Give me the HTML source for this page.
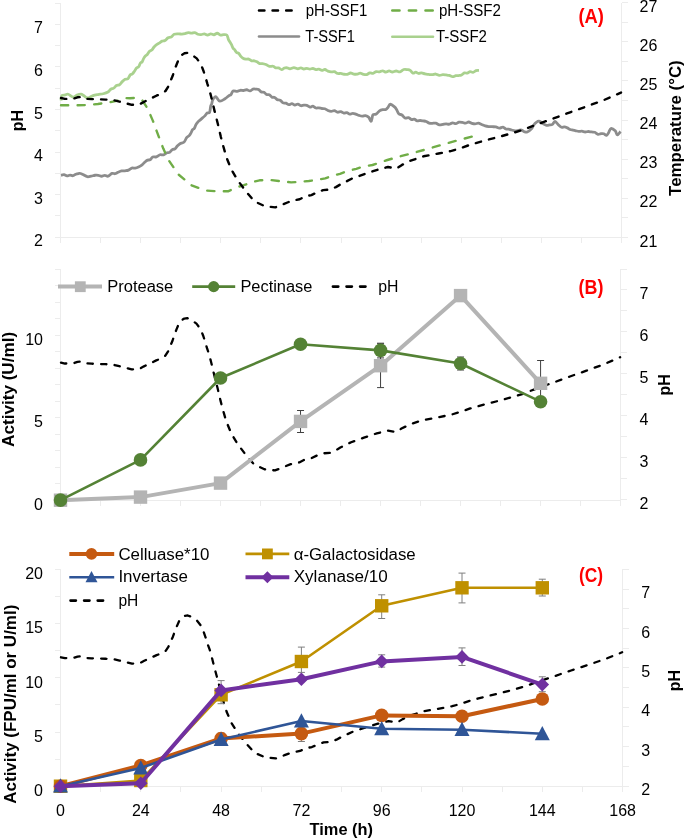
<!DOCTYPE html>
<html><head><meta charset="utf-8"><style>
html,body{margin:0;padding:0;background:#fff;}
svg{display:block;font-family:"Liberation Sans", sans-serif;will-change:transform;}
</style></head><body>
<svg width="685" height="839" viewBox="0 0 685 839">
<rect width="685" height="839" fill="#fff"/>
<path d="M60.5 3 V243.2 M54.5 237.2 H60.5 M54.5 215.91 H60.5 M54.5 194.62 H60.5 M54.5 173.33 H60.5 M54.5 152.04 H60.5 M54.5 130.75 H60.5 M54.5 109.45 H60.5 M54.5 88.16 H60.5 M54.5 66.87 H60.5 M54.5 45.58 H60.5 M54.5 24.29 H60.5 M54.5 3 H60.5 M621.5 2.8 V243.2 M621.5 237.2 H627.5 M621.5 217.67 H627.5 M621.5 198.13 H627.5 M621.5 178.6 H627.5 M621.5 159.07 H627.5 M621.5 139.53 H627.5 M621.5 120 H627.5 M621.5 100.47 H627.5 M621.5 80.93 H627.5 M621.5 61.4 H627.5 M621.5 41.87 H627.5 M621.5 22.33 H627.5 M621.5 2.8 H627.5 M60.5 237.2 H621.5 M60.5 237.2 V243.2 M100.57 237.2 V243.2 M140.64 237.2 V243.2 M180.71 237.2 V243.2 M220.79 237.2 V243.2 M260.86 237.2 V243.2 M300.93 237.2 V243.2 M341 237.2 V243.2 M381.07 237.2 V243.2 M421.14 237.2 V243.2 M461.21 237.2 V243.2 M501.29 237.2 V243.2 M541.36 237.2 V243.2 M581.43 237.2 V243.2 M621.5 237.2 V243.2" stroke="#ececec" stroke-width="1" fill="none" shape-rendering="crispEdges"/>
<text x="43" y="246.3" font-size="16" text-anchor="end" font-weight="normal" fill="#000">2</text>
<text x="43" y="203.72" font-size="16" text-anchor="end" font-weight="normal" fill="#000">3</text>
<text x="43" y="161.14" font-size="16" text-anchor="end" font-weight="normal" fill="#000">4</text>
<text x="43" y="118.55" font-size="16" text-anchor="end" font-weight="normal" fill="#000">5</text>
<text x="43" y="75.97" font-size="16" text-anchor="end" font-weight="normal" fill="#000">6</text>
<text x="43" y="33.39" font-size="16" text-anchor="end" font-weight="normal" fill="#000">7</text>
<text x="639.5" y="246.5" font-size="16" text-anchor="start" font-weight="normal" fill="#000">21</text>
<text x="639.5" y="207.43" font-size="16" text-anchor="start" font-weight="normal" fill="#000">22</text>
<text x="639.5" y="168.37" font-size="16" text-anchor="start" font-weight="normal" fill="#000">23</text>
<text x="639.5" y="129.3" font-size="16" text-anchor="start" font-weight="normal" fill="#000">24</text>
<text x="639.5" y="90.23" font-size="16" text-anchor="start" font-weight="normal" fill="#000">25</text>
<text x="639.5" y="51.17" font-size="16" text-anchor="start" font-weight="normal" fill="#000">26</text>
<text x="639.5" y="12.1" font-size="16" text-anchor="start" font-weight="normal" fill="#000">27</text>
<text x="23.2" y="120.5" font-size="16" text-anchor="middle" font-weight="bold" fill="#000" transform="rotate(-90 23.2 120.5)">pH</text>
<text x="680.7" y="128.1" font-size="16" text-anchor="middle" font-weight="bold" fill="#000" textLength="135.6" lengthAdjust="spacingAndGlyphs" transform="rotate(-90 680.7 128.1)">Temperature (°C)</text>
<g fill="none" stroke-linejoin="round">
<path d="M61 100.5 C61.13 99.7 61.08 96.65 61.8 95.73 C62.52 94.8 64.23 95.2 65.3 94.96 C66.37 94.72 66.87 93.89 68.2 94.27 C69.53 94.65 71.83 97.1 73.3 97.24 C74.77 97.38 75.72 95.64 77 95.13 C78.28 94.62 79.92 94.11 81 94.17 C82.08 94.24 82.47 94.91 83.5 95.52 C84.53 96.14 86.1 97.59 87.2 97.85 C88.3 98.11 89.13 97.47 90.1 97.09 C91.07 96.72 91.67 96.01 93 95.58 C94.33 95.15 96.38 94.82 98.1 94.51 C99.82 94.21 101.65 94.18 103.3 93.76 C104.95 93.34 106.75 92.75 108 92 C109.25 91.25 109.86 89.89 110.8 89.25 C111.74 88.61 112.71 88.79 113.67 88.18 C114.62 87.56 115.58 86.14 116.53 85.57 C117.49 85 118.44 85.41 119.4 84.75 C120.36 84.09 121.31 82.52 122.27 81.62 C123.22 80.72 124.18 79.83 125.13 79.34 C126.09 78.86 127.17 79.43 128 78.71 C128.83 77.98 129.43 75.77 130.14 74.98 C130.85 74.2 131.57 74.64 132.28 74.02 C132.99 73.41 133.71 72.31 134.42 71.29 C135.13 70.28 135.85 68.7 136.56 67.94 C137.27 67.18 138.06 67.56 138.7 66.74 C139.34 65.92 139.85 63.81 140.42 63 C140.99 62.2 141.57 62.74 142.14 61.91 C142.71 61.09 143.29 59.09 143.86 58.06 C144.43 57.04 145.01 56.36 145.58 55.77 C146.15 55.18 146.64 55.28 147.3 54.51 C147.96 53.74 148.8 51.91 149.55 51.16 C150.3 50.4 151.05 50.68 151.8 50 C152.55 49.31 153.3 47.9 154.05 47.05 C154.8 46.2 155.44 45.54 156.3 44.88 C157.16 44.22 158.23 43.72 159.2 43.09 C160.17 42.47 161.13 41.58 162.1 41.15 C163.07 40.72 164.01 41.1 165 40.53 C165.99 39.97 167.04 38.35 168.07 37.77 C169.09 37.19 170.11 37.64 171.13 37.06 C172.16 36.48 172.96 34.8 174.2 34.28 C175.44 33.76 177.33 33.98 178.6 33.93 C179.87 33.89 180.75 34.08 181.82 34.03 C182.9 33.97 183.98 33.81 185.05 33.59 C186.12 33.36 187.2 32.73 188.28 32.67 C189.35 32.61 190.43 33.24 191.5 33.22 C192.57 33.2 193.63 32.39 194.7 32.56 C195.77 32.72 196.83 33.9 197.9 34.24 C198.97 34.57 200.03 34.62 201.1 34.56 C202.17 34.5 203.23 33.82 204.3 33.9 C205.37 33.99 206.45 35.08 207.53 35.07 C208.6 35.06 209.68 33.89 210.75 33.84 C211.82 33.78 212.9 34.85 213.97 34.75 C215.05 34.66 216.12 33.21 217.2 33.27 C218.28 33.33 219.36 34.91 220.43 35.13 C221.51 35.35 222.59 34.58 223.67 34.58 C224.74 34.59 226.09 34.29 226.9 35.13 C227.71 35.97 227.97 38.44 228.5 39.61 C229.03 40.79 229.59 41.34 230.1 42.18 C230.61 43.02 231.06 43.69 231.53 44.67 C232.01 45.64 232.49 47.22 232.97 48.02 C233.44 48.82 233.8 48.73 234.4 49.47 C235 50.2 235.83 51.78 236.55 52.43 C237.27 53.07 237.98 52.69 238.7 53.35 C239.42 54 240.13 55.54 240.85 56.36 C241.57 57.17 242.16 57.77 243 58.24 C243.84 58.71 244.91 59.01 245.87 59.15 C246.82 59.29 247.78 58.78 248.73 59.07 C249.69 59.35 250.68 60.55 251.6 60.84 C252.52 61.13 253.38 60.63 254.28 60.8 C255.17 60.97 256.06 61.38 256.95 61.84 C257.84 62.31 258.73 63.28 259.62 63.58 C260.52 63.88 261.26 63.48 262.3 63.64 C263.34 63.79 264.68 64.06 265.87 64.52 C267.06 64.97 268.24 66.07 269.43 66.36 C270.62 66.64 271.93 66 273 66.25 C274.07 66.5 274.91 67.58 275.87 67.86 C276.82 68.13 277.78 67.61 278.73 67.89 C279.69 68.18 280.66 69.56 281.6 69.59 C282.54 69.61 283.47 68.32 284.4 68.02 C285.33 67.72 286.27 67.66 287.2 67.79 C288.13 67.92 288.88 68.82 290 68.8 C291.12 68.78 292.63 67.67 293.95 67.68 C295.27 67.69 296.74 68.82 297.9 68.86 C299.06 68.9 299.9 67.9 300.9 67.92 C301.9 67.95 302.9 68.95 303.9 69.02 C304.9 69.08 305.9 68.29 306.9 68.3 C307.9 68.32 308.9 69.08 309.9 69.11 C310.9 69.14 311.9 68.41 312.9 68.49 C313.9 68.57 314.9 69.48 315.9 69.58 C316.9 69.68 317.9 68.98 318.9 69.1 C319.9 69.22 320.9 70.24 321.9 70.31 C322.9 70.38 323.9 69.38 324.9 69.51 C325.9 69.64 326.86 70.71 327.9 71.11 C328.94 71.51 330.05 71.83 331.12 71.93 C332.2 72.02 333.28 71.42 334.35 71.67 C335.43 71.92 336.5 73.12 337.57 73.42 C338.65 73.72 339.73 73.33 340.8 73.46 C341.88 73.6 342.95 74.11 344.02 74.24 C345.1 74.38 346.18 74.47 347.25 74.26 C348.32 74.06 349.4 73.02 350.48 72.99 C351.55 72.95 352.62 73.83 353.7 74.03 C354.77 74.23 355.85 74.31 356.93 74.17 C358 74.03 359.07 73.16 360.15 73.19 C361.22 73.22 362.3 74.1 363.38 74.34 C364.45 74.57 365.53 74.85 366.6 74.6 C367.68 74.36 368.75 73.09 369.83 72.87 C370.9 72.65 371.98 73.49 373.05 73.27 C374.12 73.05 375.2 71.78 376.27 71.56 C377.35 71.34 378.43 72.06 379.5 71.93 C380.57 71.8 381.63 70.74 382.7 70.78 C383.77 70.81 384.83 72.11 385.9 72.14 C386.97 72.17 388.03 70.96 389.1 70.94 C390.17 70.92 391.12 72 392.3 72.01 C393.48 72.02 394.87 71.05 396.15 71.02 C397.43 71 398.73 72.11 400 71.85 C401.27 71.6 402.5 69.89 403.75 69.52 C405 69.15 406.43 69.49 407.5 69.63 C408.57 69.78 409.3 69.8 410.2 70.39 C411.1 70.98 411.97 72.85 412.9 73.15 C413.83 73.45 414.81 72.16 415.77 72.21 C416.72 72.26 417.68 73.38 418.63 73.47 C419.59 73.57 420.43 72.69 421.5 72.78 C422.57 72.86 423.88 73.71 425.07 73.98 C426.26 74.25 427.44 74.28 428.63 74.4 C429.82 74.51 431.01 74.74 432.2 74.68 C433.39 74.62 434.58 73.93 435.77 74.03 C436.96 74.13 438.14 75.17 439.33 75.28 C440.52 75.39 441.77 74.75 442.9 74.69 C444.03 74.64 445.05 74.84 446.12 74.96 C447.2 75.08 448.28 75.11 449.35 75.41 C450.43 75.7 451.5 76.67 452.57 76.72 C453.65 76.77 454.78 75.91 455.8 75.71 C456.82 75.51 457.71 75.67 458.67 75.54 C459.62 75.41 460.58 75.39 461.53 74.94 C462.49 74.5 463.44 73.14 464.4 72.84 C465.36 72.55 466.31 73.36 467.27 73.17 C468.22 72.99 469.18 71.85 470.13 71.73 C471.09 71.6 472.02 72.62 473 72.44 C473.98 72.25 475 70.95 476 70.61 C477 70.27 478.5 70.43 479 70.4" stroke="#a9d18e" stroke-width="2.8"/>
<path d="M61 175.3 C61.5 175.2 63 174.62 64 174.72 C65 174.82 66 175.85 67 175.91 C68 175.98 69.02 175.13 70 175.1 C70.98 175.07 71.93 175.87 72.9 175.72 C73.87 175.58 74.83 174.59 75.8 174.22 C76.77 173.85 77.92 173.63 78.7 173.51 C79.48 173.39 79.78 173.32 80.5 173.5 C81.22 173.68 81.87 174.04 83 174.58 C84.13 175.11 85.94 176.45 87.3 176.73 C88.66 177 89.87 176.46 91.15 176.21 C92.43 175.97 93.81 175.41 95 175.26 C96.19 175.1 97.18 175.14 98.28 175.3 C99.37 175.47 100.46 176.24 101.55 176.24 C102.64 176.24 103.73 175.33 104.82 175.33 C105.92 175.32 106.9 176.54 108.1 176.22 C109.3 175.9 110.85 173.82 112 173.4 C113.15 172.98 114 173.89 115 173.71 C116 173.52 116.9 172.75 118 172.29 C119.1 171.83 120.4 171.2 121.6 170.95 C122.8 170.7 124.05 170.92 125.2 170.78 C126.35 170.65 127.42 170.59 128.53 170.14 C129.63 169.68 130.74 168.38 131.85 168.05 C132.96 167.72 134.07 168.33 135.18 168.17 C136.28 168.01 137.4 167.59 138.5 167.09 C139.6 166.59 140.67 166.01 141.75 165.15 C142.83 164.29 144.03 162.77 145 161.94 C145.97 161.1 146.71 160.52 147.57 160.15 C148.42 159.79 149.28 160.24 150.13 159.73 C150.99 159.22 151.66 157.56 152.7 157.09 C153.74 156.62 155.13 157.28 156.35 156.89 C157.57 156.5 158.81 155.08 160 154.75 C161.19 154.42 162.33 155.23 163.5 154.9 C164.67 154.58 165.97 153.23 167 152.8 C168.03 152.38 168.78 152.88 169.67 152.35 C170.56 151.82 171.44 150.21 172.33 149.62 C173.22 149.03 174.14 149.45 175 148.81 C175.86 148.17 176.67 146.63 177.5 145.78 C178.33 144.94 178.9 144.35 180 143.73 C181.1 143.12 182.99 143.09 184.1 142.08 C185.21 141.06 185.8 138.73 186.65 137.66 C187.5 136.59 188.49 136.4 189.2 135.64 C189.91 134.88 190.33 134.12 190.9 133.1 C191.47 132.09 192.03 130.35 192.6 129.57 C193.17 128.79 193.76 129.2 194.3 128.41 C194.84 127.61 195.32 125.8 195.83 124.82 C196.34 123.84 196.86 123.17 197.37 122.53 C197.88 121.89 198.04 121.75 198.9 120.97 C199.76 120.19 201.51 118.68 202.5 117.83 C203.49 116.98 204.08 116.68 204.87 115.87 C205.66 115.06 206.44 113.57 207.23 112.97 C208.02 112.38 209.02 113.44 209.6 112.29 C210.18 111.15 210.35 107.51 210.7 106.11 C211.05 104.71 211.37 104.96 211.7 103.92 C212.03 102.87 212.1 101.03 212.7 99.84 C213.3 98.65 214.62 97.12 215.3 96.78 C215.98 96.44 216.03 97.06 216.8 97.79 C217.57 98.53 218.53 101.05 219.9 101.2 C221.27 101.36 223.48 99.68 225 98.74 C226.52 97.79 227.99 96.24 229 95.54 C230.01 94.85 230.37 95.34 231.05 94.57 C231.73 93.8 232.07 91.44 233.1 90.92 C234.12 90.4 236 91.54 237.2 91.44 C238.4 91.33 239.27 90.45 240.3 90.29 C241.33 90.14 242.33 90.6 243.4 90.51 C244.47 90.42 245.6 89.7 246.7 89.77 C247.8 89.84 248.96 91.04 250 90.93 C251.04 90.82 251.97 89.41 252.95 89.11 C253.93 88.81 254.96 89.05 255.9 89.12 C256.84 89.19 257.68 89.08 258.57 89.55 C259.47 90.01 260.36 91.46 261.25 91.91 C262.14 92.37 263.03 91.85 263.93 92.28 C264.82 92.7 265.71 94.08 266.6 94.48 C267.49 94.89 268.38 94.28 269.28 94.72 C270.17 95.16 271.06 96.7 271.95 97.14 C272.84 97.59 273.73 96.98 274.62 97.41 C275.52 97.83 276.38 99.24 277.3 99.71 C278.22 100.18 279.21 99.68 280.17 100.21 C281.12 100.74 282.08 102.39 283.03 102.88 C283.99 103.37 284.92 102.85 285.9 103.15 C286.88 103.46 287.9 104.6 288.9 104.69 C289.9 104.77 290.9 103.61 291.9 103.67 C292.9 103.73 293.9 104.96 294.9 105.04 C295.9 105.12 296.9 104.03 297.9 104.14 C298.9 104.25 299.9 105.56 300.9 105.72 C301.9 105.89 302.9 105.21 303.9 105.15 C304.9 105.08 305.9 104.99 306.9 105.33 C307.9 105.66 308.9 107 309.9 107.15 C310.9 107.29 311.9 106.03 312.9 106.18 C313.9 106.32 314.9 107.74 315.9 108.03 C316.9 108.31 317.9 107.8 318.9 107.88 C319.9 107.96 320.9 108.36 321.9 108.5 C322.9 108.64 323.9 108.4 324.9 108.73 C325.9 109.06 326.86 110.03 327.9 110.48 C328.94 110.92 330.05 111.36 331.12 111.39 C332.2 111.42 333.28 110.53 334.35 110.67 C335.43 110.81 336.5 112.04 337.57 112.21 C338.65 112.38 339.76 111.55 340.8 111.7 C341.84 111.85 342.8 112.97 343.8 113.11 C344.8 113.25 345.8 112.38 346.8 112.54 C347.8 112.7 348.8 113.96 349.8 114.08 C350.8 114.21 351.8 113.29 352.8 113.29 C353.8 113.29 354.76 113.74 355.8 114.09 C356.84 114.44 357.95 115.05 359.02 115.4 C360.1 115.74 361.18 116.11 362.25 116.15 C363.32 116.19 364.4 115.47 365.48 115.65 C366.55 115.84 367.8 116.34 368.7 117.28 C369.6 118.21 370.36 121.01 370.9 121.25 C371.44 121.5 371.6 119.84 371.95 118.76 C372.3 117.68 372.28 115.55 373 114.76 C373.72 113.96 375.17 114.63 376.25 113.98 C377.33 113.32 378.43 111.54 379.5 110.82 C380.57 110.11 381.63 109.91 382.7 109.7 C383.77 109.5 385.01 109.97 385.9 109.57 C386.79 109.17 387.33 108.2 388.05 107.32 C388.77 106.43 389.12 104.33 390.2 104.27 C391.27 104.2 393.43 106.02 394.5 106.93 C395.57 107.83 395.93 108.55 396.65 109.7 C397.37 110.85 397.93 112.97 398.8 113.85 C399.68 114.73 400.87 114.29 401.9 114.98 C402.93 115.67 403.88 117.55 405 117.99 C406.12 118.43 407.52 117.36 408.6 117.63 C409.68 117.89 410.51 119.31 411.47 119.58 C412.42 119.84 413.38 119.03 414.33 119.23 C415.29 119.43 416.22 120.59 417.2 120.8 C418.18 121.01 419.2 120.49 420.2 120.5 C421.2 120.51 422.2 120.73 423.2 120.89 C424.2 121.05 425.2 121.08 426.2 121.45 C427.2 121.83 428.2 122.83 429.2 123.13 C430.2 123.44 431.11 123.29 432.2 123.31 C433.29 123.32 434.58 122.97 435.77 123.23 C436.96 123.48 438.14 124.65 439.33 124.83 C440.52 125.01 441.77 124.47 442.9 124.29 C444.03 124.12 445.05 123.8 446.12 123.79 C447.2 123.77 448.28 124.39 449.35 124.23 C450.43 124.06 451.5 122.88 452.57 122.79 C453.65 122.7 454.73 123.81 455.8 123.71 C456.88 123.61 457.95 122.39 459.02 122.16 C460.1 121.94 461.18 122.19 462.25 122.37 C463.32 122.54 464.4 123.27 465.48 123.21 C466.55 123.15 467.62 122 468.7 122.01 C469.77 122.02 470.85 122.98 471.93 123.28 C473 123.58 474.07 123.79 475.15 123.78 C476.22 123.77 477.3 123.12 478.38 123.22 C479.45 123.33 480.47 123.98 481.6 124.43 C482.73 124.88 483.98 125.54 485.17 125.9 C486.36 126.26 487.54 126.45 488.73 126.58 C489.92 126.72 491.11 126.67 492.3 126.72 C493.49 126.77 494.68 126.65 495.87 126.89 C497.06 127.13 498.24 128.12 499.43 128.16 C500.62 128.21 501.93 127.01 503 127.16 C504.07 127.3 504.91 128.71 505.87 129.04 C506.82 129.37 507.78 128.98 508.73 129.14 C509.69 129.3 510.54 129.72 511.6 130 C512.66 130.27 513.93 130.73 515.1 130.79 C516.27 130.85 517.54 130.5 518.6 130.38 C519.66 130.25 520.51 129.8 521.47 130.02 C522.42 130.24 523.38 131.38 524.33 131.71 C525.29 132.05 526.01 132.51 527.2 132.04 C528.39 131.56 530.43 129.98 531.5 128.86 C532.57 127.73 532.8 126.34 533.6 125.27 C534.4 124.2 535.4 123.13 536.3 122.44 C537.2 121.75 537.83 120.91 539 121.13 C540.17 121.35 542.05 123.05 543.3 123.77 C544.55 124.49 545.43 125.24 546.5 125.44 C547.57 125.63 548.72 125.11 549.7 124.94 C550.68 124.78 551.5 125.03 552.4 124.44 C553.3 123.84 554.12 121.32 555.1 121.37 C556.08 121.42 557.23 123.75 558.3 124.73 C559.37 125.72 560.49 126.92 561.5 127.28 C562.51 127.63 563.41 126.76 564.37 126.86 C565.32 126.95 566.28 127.41 567.23 127.86 C568.19 128.3 569.14 129.15 570.1 129.53 C571.06 129.91 572.01 129.93 572.97 130.13 C573.92 130.34 574.88 130.55 575.83 130.76 C576.79 130.98 577.69 131.34 578.7 131.41 C579.71 131.49 580.83 131.1 581.9 131.19 C582.97 131.29 584.03 131.94 585.1 131.99 C586.17 132.05 587.27 131.52 588.35 131.51 C589.43 131.51 590.53 131.85 591.6 131.98 C592.67 132.11 593.73 131.89 594.8 132.28 C595.87 132.67 596.99 134.06 598 134.3 C599.01 134.54 599.91 133.83 600.87 133.74 C601.82 133.65 602.78 133.5 603.73 133.77 C604.69 134.04 605.76 135.57 606.6 135.34 C607.44 135.12 608.03 133.54 608.75 132.4 C609.47 131.27 609.82 128.81 610.9 128.55 C611.98 128.28 614.13 129.75 615.2 130.81 C616.27 131.87 616.4 134.78 617.3 134.91 C618.2 135.04 620.05 132.15 620.6 131.6" stroke="#8c8c8c" stroke-width="2.8"/>
<path d="M61 105.3 L76.5 105.3 L88 105 L97.9 104 L109.5 102.3 L117.8 100.6 L125.2 98 L130 98.3 L137 97.8 L142.3 100.4 L147.5 108.3 L152.8 120.6 L158 134.6 L163.3 148.6 L168.5 160 L178.6 174.6 L191.5 185.3 L205.3 190.5 L217.5 191.3 L228 191.3 L236.8 187.3 L243.8 185.2 L252.6 182 L259.6 180.3 L270.1 180 L280.6 181.2 L291.1 182.4 L301.6 181.7 L308.8 181 L316.5 179.9 L325.2 178.4 L332.3 175.8 L340 173.8 L347.5 171 L356.3 168.8 L363.3 166.6 L372.5 165 L379.5 162.7 L387.4 160 L396.6 157.3 L412.9 153 L427.9 148.8 L442.9 144.5 L458 140.2 L470.8 136.9 L479 134.8" stroke="#70ad47" stroke-width="2.4" stroke-dasharray="7.2 9.4" stroke-linecap="round"/>
<path d="M61 98 L64.9 98.9 L70.8 98.9 L74 98.5 L77.5 97.3 L80.6 97 L83.5 98.6 L91.6 99.1 L97.9 99.3 L105.5 99.6 L112.5 99.9 L119.4 101.6 L131.8 104.8 L138.8 104.8 L144.1 101.8 L149.2 99.3 L156.4 95.7 L160.4 94.2 L165.5 91 L168.3 86.5 L170.5 81 L172.7 75.8 L174.8 69.2 L176.8 64 L179.3 57.9 L182 54.8 L184.5 53.3 L187.5 52.8 L191.1 54.3 L196.7 58.4 L200.8 64 L203.4 70.7 L205.4 76.8 L207.4 83.9 L209.5 90.1 L211.2 96.8 L214.7 111.6 L217.8 123.8 L220.9 137.1 L223.5 147 L226.5 157.5 L231.5 169.8 L237.7 180.3 L245.5 190.8 L254.3 201.3 L264.8 206.2 L275.3 207.4 L284.1 203.9 L291.1 201 L299.6 199.3 L305.3 196.3 L311.4 195.1 L317.5 192.2 L323.1 190.1 L330.3 189.6 L335.9 187.1 L340.8 184.2 L351.6 178.8 L364.4 174.1 L377.3 169.8 L388 167 L396.6 168.5 L402 164.9 L410.7 160.6 L423.6 156.3 L438.6 153.5 L451.5 150.9 L460.1 148.3 L470.8 144.5 L485.9 140.2 L498.8 136.9 L511.6 133.3 L522.9 129.9 L537.9 124.1 L552.9 118.7 L570.1 112.3 L587.3 106.2 L604.5 99.8 L621 92.6" stroke="#000" stroke-width="2.4" stroke-dasharray="5.4 8.2" stroke-linecap="round"/>
</g>
<path d="M259 10.5 H294" stroke="#000" stroke-width="2.6" stroke-dasharray="5.4 8.2" stroke-linecap="round" fill="none"/>
<path d="M259 36.5 H299" stroke="#8c8c8c" stroke-width="2.6" stroke-linecap="round" fill="none"/>
<path d="M392.3 10.5 H434" stroke="#70ad47" stroke-width="2.6" stroke-dasharray="7.2 9.4" stroke-linecap="round" fill="none"/>
<path d="M392.3 36.8 H433" stroke="#a9d18e" stroke-width="2.6" stroke-linecap="round" fill="none"/>
<text x="305.8" y="15.8" font-size="16" text-anchor="start" font-weight="normal" fill="#000" textLength="61.4" lengthAdjust="spacingAndGlyphs">pH-SSF1</text>
<text x="305.3" y="41.8" font-size="16" text-anchor="start" font-weight="normal" fill="#000" textLength="49.6" lengthAdjust="spacingAndGlyphs">T-SSF1</text>
<text x="438.9" y="15.8" font-size="16" text-anchor="start" font-weight="normal" fill="#000" textLength="62" lengthAdjust="spacingAndGlyphs">pH-SSF2</text>
<text x="436" y="41.8" font-size="16" text-anchor="start" font-weight="normal" fill="#000" textLength="50.9" lengthAdjust="spacingAndGlyphs">T-SSF2</text>
<text x="578.4" y="22.9" font-size="20" text-anchor="start" font-weight="bold" fill="#ff0000" textLength="25.4" lengthAdjust="spacingAndGlyphs">(A)</text>
<path d="M60.5 269 V506 M54.5 500 H60.5 M54.5 483.5 H60.5 M54.5 467 H60.5 M54.5 450.5 H60.5 M54.5 434 H60.5 M54.5 417.5 H60.5 M54.5 401 H60.5 M54.5 384.5 H60.5 M54.5 368 H60.5 M54.5 351.5 H60.5 M54.5 335 H60.5 M54.5 318.5 H60.5 M54.5 302 H60.5 M54.5 285.5 H60.5 M54.5 269 H60.5 M620.6 269 V505.8 M620.6 499.8 H626.6 M620.6 478.82 H626.6 M620.6 457.84 H626.6 M620.6 436.85 H626.6 M620.6 415.87 H626.6 M620.6 394.89 H626.6 M620.6 373.91 H626.6 M620.6 352.93 H626.6 M620.6 331.95 H626.6 M620.6 310.96 H626.6 M620.6 289.98 H626.6 M620.6 269 H626.6 M60.5 500 H620.6 M60.5 500 V506 M100.51 500 V506 M140.51 500 V506 M180.52 500 V506 M220.53 500 V506 M260.54 500 V506 M300.54 500 V506 M340.55 500 V506 M380.56 500 V506 M420.56 500 V506 M460.57 500 V506 M500.58 500 V506 M540.59 500 V506 M580.59 500 V506 M620.6 500 V506" stroke="#ececec" stroke-width="1" fill="none" shape-rendering="crispEdges"/>
<text x="43" y="509.6" font-size="16" text-anchor="end" font-weight="normal" fill="#000">0</text>
<text x="43" y="427.1" font-size="16" text-anchor="end" font-weight="normal" fill="#000">5</text>
<text x="43" y="344.6" font-size="16" text-anchor="end" font-weight="normal" fill="#000">10</text>
<text x="639.5" y="509.1" font-size="16" text-anchor="start" font-weight="normal" fill="#000">2</text>
<text x="639.5" y="467.14" font-size="16" text-anchor="start" font-weight="normal" fill="#000">3</text>
<text x="639.5" y="425.17" font-size="16" text-anchor="start" font-weight="normal" fill="#000">4</text>
<text x="639.5" y="383.21" font-size="16" text-anchor="start" font-weight="normal" fill="#000">5</text>
<text x="639.5" y="341.25" font-size="16" text-anchor="start" font-weight="normal" fill="#000">6</text>
<text x="639.5" y="299.28" font-size="16" text-anchor="start" font-weight="normal" fill="#000">7</text>
<text x="14.2" y="389.4" font-size="16" text-anchor="middle" font-weight="bold" fill="#000" textLength="115" lengthAdjust="spacingAndGlyphs" transform="rotate(-90 14.2 389.4)">Activity (U/ml)</text>
<text x="670.4" y="384.9" font-size="16" text-anchor="middle" font-weight="bold" fill="#000" transform="rotate(-90 670.4 384.9)">pH</text>
<path d="M61 362.62 L64.89 363.51 L70.78 363.51 L73.98 363.11 L77.47 361.93 L80.57 361.64 L83.46 363.21 L91.55 363.7 L97.84 363.9 L105.43 364.2 L112.42 364.49 L119.31 366.17 L131.69 369.32 L138.67 369.32 L143.97 366.37 L149.06 363.9 L156.25 360.35 L160.24 358.88 L165.33 355.72 L168.13 351.29 L170.32 345.87 L172.52 340.74 L174.62 334.24 L176.61 329.11 L179.11 323.1 L181.81 320.05 L184.3 318.57 L187.3 318.08 L190.89 319.56 L196.48 323.6 L200.57 329.11 L203.17 335.72 L205.17 341.73 L207.16 348.73 L209.26 354.84 L210.96 361.44 L214.45 376.02 L217.55 388.05 L220.64 401.15 L223.24 410.91 L226.23 421.26 L231.23 433.38 L237.42 443.73 L245.2 454.07 L253.99 464.42 L264.47 469.25 L274.96 470.43 L283.74 466.98 L290.73 464.13 L299.22 462.45 L304.91 459.49 L311 458.31 L317.09 455.45 L322.68 453.38 L329.87 452.89 L335.46 450.43 L340.35 447.57 L351.13 442.25 L363.91 437.62 L376.79 433.38 L387.47 430.62 L396.06 432.1 L401.45 428.55 L410.14 424.31 L423.02 420.07 L437.99 417.32 L450.87 414.75 L459.46 412.19 L470.14 408.45 L485.22 404.21 L498.1 400.96 L510.88 397.41 L522.16 394.06 L537.13 388.34 L552.11 383.02 L569.28 376.71 L586.45 370.7 L603.63 364.39 L620.1 357.3" stroke="#000" stroke-width="2.3" fill="none" stroke-linejoin="round" stroke-dasharray="5.4 8.2" stroke-linecap="round"/>
<path d="M60.5 500.2 L140.51 497.1 L220.53 483.1 L300.54 421.4 L380.56 365.7 L460.57 295.6 L540.59 383.3" stroke="#b4b4b4" stroke-width="4" fill="none" stroke-linejoin="round"/>
<path d="M300.54 410.5 V432.5 M297.04 410.5 H304.04 M297.04 432.5 H304.04" stroke="#404040" stroke-width="1" fill="none"/>
<path d="M380.56 343.8 V387.6 M377.06 343.8 H384.06 M377.06 387.6 H384.06" stroke="#404040" stroke-width="1" fill="none"/>
<path d="M540.59 360.5 V406 M537.09 360.5 H544.09 M537.09 406 H544.09" stroke="#404040" stroke-width="1" fill="none"/>
<rect x="53.8" y="493.5" width="13.4" height="13.4" fill="#b4b4b4"/>
<rect x="133.81" y="490.4" width="13.4" height="13.4" fill="#b4b4b4"/>
<rect x="213.83" y="476.4" width="13.4" height="13.4" fill="#b4b4b4"/>
<rect x="293.84" y="414.7" width="13.4" height="13.4" fill="#b4b4b4"/>
<rect x="373.86" y="359" width="13.4" height="13.4" fill="#b4b4b4"/>
<rect x="453.87" y="288.9" width="13.4" height="13.4" fill="#b4b4b4"/>
<rect x="533.89" y="376.6" width="13.4" height="13.4" fill="#b4b4b4"/>
<path d="M380.56 343.2 V357.9 M377.06 343.2 H384.06 M377.06 357.9 H384.06" stroke="#404040" stroke-width="1" fill="none"/>
<path d="M460.57 357 V370 M457.07 357 H464.07 M457.07 370 H464.07" stroke="#404040" stroke-width="1" fill="none"/>
<path d="M60.5 500.1 L140.51 459.9 L220.53 378 L300.54 344.3 L380.56 350.4 L460.57 363.5 L540.59 401.7" stroke="#548235" stroke-width="2.6" fill="none" stroke-linejoin="round"/>
<circle cx="60.5" cy="500.1" r="6.8" fill="#548235"/>
<circle cx="140.51" cy="459.9" r="6.8" fill="#548235"/>
<circle cx="220.53" cy="378" r="6.8" fill="#548235"/>
<circle cx="300.54" cy="344.3" r="6.8" fill="#548235"/>
<circle cx="380.56" cy="350.4" r="6.8" fill="#548235"/>
<circle cx="460.57" cy="363.5" r="6.8" fill="#548235"/>
<circle cx="540.59" cy="401.7" r="6.8" fill="#548235"/>
<path d="M58 286.6 H102" stroke="#b4b4b4" stroke-width="4" fill="none"/>
<rect x="74.9" y="281.3" width="10.8" height="10.8" fill="#b4b4b4"/>
<text x="107.2" y="291.6" font-size="16" text-anchor="start" font-weight="normal" fill="#000" textLength="66.1" lengthAdjust="spacingAndGlyphs">Protease</text>
<path d="M192.2 286.6 H235.2" stroke="#548235" stroke-width="2.6" fill="none"/>
<circle cx="213.7" cy="286.6" r="5.6" fill="#548235"/>
<text x="240.4" y="291.6" font-size="16" text-anchor="start" font-weight="normal" fill="#000" textLength="72" lengthAdjust="spacingAndGlyphs">Pectinase</text>
<path d="M332.9 286.6 H367" stroke="#000" stroke-width="2.6" stroke-dasharray="5.4 8.2" stroke-linecap="round" fill="none"/>
<text x="378.3" y="291.6" font-size="16" text-anchor="start" font-weight="normal" fill="#000" textLength="20.2" lengthAdjust="spacingAndGlyphs">pH</text>
<text x="578.6" y="294.2" font-size="20" text-anchor="start" font-weight="bold" fill="#ff0000" textLength="24.9" lengthAdjust="spacingAndGlyphs">(B)</text>
<path d="M60.5 569.6 V792.2 M54.5 786.2 H60.5 M54.5 759.12 H60.5 M54.5 732.05 H60.5 M54.5 704.98 H60.5 M54.5 677.9 H60.5 M54.5 650.83 H60.5 M54.5 623.75 H60.5 M54.5 596.67 H60.5 M54.5 569.6 H60.5 M622.6 569.4 V792 M622.6 786 H628.6 M622.6 766.31 H628.6 M622.6 746.62 H628.6 M622.6 726.93 H628.6 M622.6 707.24 H628.6 M622.6 687.55 H628.6 M622.6 667.85 H628.6 M622.6 648.16 H628.6 M622.6 628.47 H628.6 M622.6 608.78 H628.6 M622.6 589.09 H628.6 M622.6 569.4 H628.6 M60.5 786.2 H622.6 M60.5 786.2 V792.2 M100.65 786.2 V792.2 M140.8 786.2 V792.2 M180.95 786.2 V792.2 M221.1 786.2 V792.2 M261.25 786.2 V792.2 M301.4 786.2 V792.2 M341.55 786.2 V792.2 M381.7 786.2 V792.2 M421.85 786.2 V792.2 M462 786.2 V792.2 M502.15 786.2 V792.2 M542.3 786.2 V792.2 M582.45 786.2 V792.2 M622.6 786.2 V792.2" stroke="#ececec" stroke-width="1" fill="none" shape-rendering="crispEdges"/>
<text x="43" y="795.8" font-size="16" text-anchor="end" font-weight="normal" fill="#000">0</text>
<text x="43" y="741.65" font-size="16" text-anchor="end" font-weight="normal" fill="#000">5</text>
<text x="43" y="687.5" font-size="16" text-anchor="end" font-weight="normal" fill="#000">10</text>
<text x="43" y="633.35" font-size="16" text-anchor="end" font-weight="normal" fill="#000">15</text>
<text x="43" y="579.2" font-size="16" text-anchor="end" font-weight="normal" fill="#000">20</text>
<text x="641.2" y="795.1" font-size="16" text-anchor="start" font-weight="normal" fill="#000">2</text>
<text x="641.2" y="755.72" font-size="16" text-anchor="start" font-weight="normal" fill="#000">3</text>
<text x="641.2" y="716.34" font-size="16" text-anchor="start" font-weight="normal" fill="#000">4</text>
<text x="641.2" y="676.95" font-size="16" text-anchor="start" font-weight="normal" fill="#000">5</text>
<text x="641.2" y="637.57" font-size="16" text-anchor="start" font-weight="normal" fill="#000">6</text>
<text x="641.2" y="598.19" font-size="16" text-anchor="start" font-weight="normal" fill="#000">7</text>
<text x="60.5" y="816.3" font-size="16" text-anchor="middle" font-weight="normal" fill="#000">0</text>
<text x="140.8" y="816.3" font-size="16" text-anchor="middle" font-weight="normal" fill="#000">24</text>
<text x="221.1" y="816.3" font-size="16" text-anchor="middle" font-weight="normal" fill="#000">48</text>
<text x="301.4" y="816.3" font-size="16" text-anchor="middle" font-weight="normal" fill="#000">72</text>
<text x="381.7" y="816.3" font-size="16" text-anchor="middle" font-weight="normal" fill="#000">96</text>
<text x="462" y="816.3" font-size="16" text-anchor="middle" font-weight="normal" fill="#000">120</text>
<text x="542.3" y="816.3" font-size="16" text-anchor="middle" font-weight="normal" fill="#000">144</text>
<text x="622.6" y="816.3" font-size="16" text-anchor="middle" font-weight="normal" fill="#000">168</text>
<text x="341.3" y="834.7" font-size="16" text-anchor="middle" font-weight="bold" fill="#000" textLength="63.4" lengthAdjust="spacingAndGlyphs">Time (h)</text>
<text x="15.7" y="704.2" font-size="16" text-anchor="middle" font-weight="bold" fill="#000" textLength="199" lengthAdjust="spacingAndGlyphs" transform="rotate(-90 15.7 704.2)">Activity (FPU/ml or U/ml)</text>
<text x="680.5" y="680.7" font-size="16" text-anchor="middle" font-weight="bold" fill="#000" transform="rotate(-90 680.5 680.7)">pH</text>
<path d="M61 657.26 L64.91 658.09 L70.82 658.09 L74.03 657.72 L77.53 656.61 L80.64 656.34 L83.55 657.82 L91.66 658.28 L97.97 658.46 L105.59 658.74 L112.6 659.02 L119.52 660.59 L131.94 663.55 L138.95 663.55 L144.26 660.78 L149.37 658.46 L156.59 655.13 L160.6 653.75 L165.71 650.79 L168.51 646.63 L170.72 641.54 L172.92 636.73 L175.02 630.63 L177.03 625.82 L179.53 620.17 L182.24 617.31 L184.74 615.92 L187.75 615.46 L191.36 616.84 L196.97 620.64 L201.08 625.82 L203.68 632.01 L205.68 637.65 L207.69 644.22 L209.79 649.95 L211.5 656.15 L215 669.84 L218.11 681.12 L221.21 693.42 L223.82 702.58 L226.83 712.29 L231.84 723.67 L238.05 733.38 L245.86 743.09 L254.68 752.8 L265.2 757.33 L275.72 758.44 L284.54 755.2 L291.55 752.52 L300.07 750.95 L305.78 748.17 L311.89 747.06 L318 744.38 L323.61 742.44 L330.83 741.98 L336.44 739.66 L341.35 736.98 L352.17 731.99 L365 727.64 L377.92 723.67 L388.64 721.08 L397.26 722.46 L402.67 719.13 L411.39 715.16 L424.31 711.18 L439.34 708.59 L452.27 706.19 L460.88 703.78 L471.6 700.27 L486.73 696.29 L499.66 693.24 L512.48 689.91 L523.81 686.76 L538.84 681.4 L553.87 676.41 L571.1 670.49 L588.33 664.84 L605.57 658.93 L622.1 652.27" stroke="#000" stroke-width="2.3" fill="none" stroke-linejoin="round" stroke-dasharray="5.4 8.2" stroke-linecap="round"/>
<path d="M221.1 680.6 V703.7 M217.6 680.6 H224.6 M217.6 703.7 H224.6" stroke="#7f7f7f" stroke-width="1" fill="none"/>
<path d="M301.4 647.1 V672.4 M297.9 647.1 H304.9 M297.9 672.4 H304.9" stroke="#7f7f7f" stroke-width="1" fill="none"/>
<path d="M381.7 594.8 V618.5 M378.2 594.8 H385.2 M378.2 618.5 H385.2" stroke="#7f7f7f" stroke-width="1" fill="none"/>
<path d="M462 573.1 V602.9 M458.5 573.1 H465.5 M458.5 602.9 H465.5" stroke="#7f7f7f" stroke-width="1" fill="none"/>
<path d="M542.3 579.2 V596 M538.8 579.2 H545.8 M538.8 596 H545.8" stroke="#7f7f7f" stroke-width="1" fill="none"/>
<path d="M381.7 654.8 V667.1 M378.2 654.8 H385.2 M378.2 667.1 H385.2" stroke="#7f7f7f" stroke-width="1" fill="none"/>
<path d="M462 647.9 V665.5 M458.5 647.9 H465.5 M458.5 665.5 H465.5" stroke="#7f7f7f" stroke-width="1" fill="none"/>
<path d="M542.3 676.8 V691.7 M538.8 676.8 H545.8 M538.8 691.7 H545.8" stroke="#7f7f7f" stroke-width="1" fill="none"/>
<path d="M301.4 728 V741.5 M297.9 728 H304.9 M297.9 741.5 H304.9" stroke="#7f7f7f" stroke-width="1" fill="none"/>
<path d="M221.1 733 V745 M217.6 733 H224.6 M217.6 745 H224.6" stroke="#7f7f7f" stroke-width="1" fill="none"/>
<path d="M60.5 786.2 L140.8 780.5 L221.1 694.8 L301.4 661.5 L381.7 605.8 L462 587.8 L542.3 587.8" stroke="#bf9000" stroke-width="2.6" fill="none" stroke-linejoin="round"/>
<rect x="53.8" y="779.5" width="13.4" height="13.4" fill="#bf9000"/>
<rect x="134.1" y="773.8" width="13.4" height="13.4" fill="#bf9000"/>
<rect x="214.4" y="688.1" width="13.4" height="13.4" fill="#bf9000"/>
<rect x="294.7" y="654.8" width="13.4" height="13.4" fill="#bf9000"/>
<rect x="375" y="599.1" width="13.4" height="13.4" fill="#bf9000"/>
<rect x="455.3" y="581.1" width="13.4" height="13.4" fill="#bf9000"/>
<rect x="535.6" y="581.1" width="13.4" height="13.4" fill="#bf9000"/>
<path d="M60.5 786.2 L140.8 765.5 L221.1 738.5 L301.4 733.6 L381.7 715.4 L462 716.2 L542.3 699" stroke="#c55a11" stroke-width="4" fill="none" stroke-linejoin="round"/>
<circle cx="60.5" cy="786.2" r="6.8" fill="#c55a11"/>
<circle cx="140.8" cy="765.5" r="6.8" fill="#c55a11"/>
<circle cx="221.1" cy="738.5" r="6.8" fill="#c55a11"/>
<circle cx="301.4" cy="733.6" r="6.8" fill="#c55a11"/>
<circle cx="381.7" cy="715.4" r="6.8" fill="#c55a11"/>
<circle cx="462" cy="716.2" r="6.8" fill="#c55a11"/>
<circle cx="542.3" cy="699" r="6.8" fill="#c55a11"/>
<path d="M60.5 786.2 L140.8 768 L221.1 739.5 L301.4 721 L381.7 728.8 L462 729.7 L542.3 733.8" stroke="#2f5597" stroke-width="2.6" fill="none" stroke-linejoin="round"/>
<path d="M60.5 778.36 L68 792.61 L53 792.61 Z" fill="#2f5597"/>
<path d="M140.8 760.16 L148.3 774.41 L133.3 774.41 Z" fill="#2f5597"/>
<path d="M221.1 731.66 L228.6 745.91 L213.6 745.91 Z" fill="#2f5597"/>
<path d="M301.4 713.16 L308.9 727.41 L293.9 727.41 Z" fill="#2f5597"/>
<path d="M381.7 720.96 L389.2 735.21 L374.2 735.21 Z" fill="#2f5597"/>
<path d="M462 721.86 L469.5 736.11 L454.5 736.11 Z" fill="#2f5597"/>
<path d="M542.3 725.96 L549.8 740.21 L534.8 740.21 Z" fill="#2f5597"/>
<path d="M60.5 786.2 L140.8 783.3 L221.1 690.4 L301.4 679.2 L381.7 661.4 L462 656.9 L542.3 684.6" stroke="#7030a0" stroke-width="4" fill="none" stroke-linejoin="round"/>
<path d="M60.5 779.4 L67.3 786.2 L60.5 793 L53.7 786.2 Z" fill="#7030a0"/>
<path d="M140.8 776.5 L147.6 783.3 L140.8 790.1 L134 783.3 Z" fill="#7030a0"/>
<path d="M221.1 683.6 L227.9 690.4 L221.1 697.2 L214.3 690.4 Z" fill="#7030a0"/>
<path d="M301.4 672.4 L308.2 679.2 L301.4 686 L294.6 679.2 Z" fill="#7030a0"/>
<path d="M381.7 654.6 L388.5 661.4 L381.7 668.2 L374.9 661.4 Z" fill="#7030a0"/>
<path d="M462 650.1 L468.8 656.9 L462 663.7 L455.2 656.9 Z" fill="#7030a0"/>
<path d="M542.3 677.8 L549.1 684.6 L542.3 691.4 L535.5 684.6 Z" fill="#7030a0"/>
<path d="M69.3 553.9 H114.2" stroke="#c55a11" stroke-width="4" fill="none"/>
<circle cx="91.5" cy="553.9" r="5.8" fill="#c55a11"/>
<text x="118.4" y="559.5" font-size="16" text-anchor="start" font-weight="normal" fill="#000" textLength="91.1" lengthAdjust="spacingAndGlyphs">Celluase*10</text>
<path d="M69.3 577.2 H114.2" stroke="#2f5597" stroke-width="2.6" fill="none"/>
<path d="M91.5 570.93 L97.5 582.33 L85.5 582.33 Z" fill="#2f5597"/>
<text x="118.4" y="582.4" font-size="16" text-anchor="start" font-weight="normal" fill="#000" textLength="69.6" lengthAdjust="spacingAndGlyphs">Invertase</text>
<path d="M70.5 600.6 H106" stroke="#000" stroke-width="2.6" stroke-dasharray="5.4 8.2" stroke-linecap="round" fill="none"/>
<text x="118.4" y="605.7" font-size="16" text-anchor="start" font-weight="normal" fill="#000" textLength="19.9" lengthAdjust="spacingAndGlyphs">pH</text>
<path d="M245.5 553.9 H289.3" stroke="#bf9000" stroke-width="2.6" fill="none"/>
<rect x="262" y="548.5" width="10.8" height="10.8" fill="#bf9000"/>
<text x="293.7" y="559.5" font-size="16" text-anchor="start" font-weight="normal" fill="#000" textLength="122" lengthAdjust="spacingAndGlyphs">α-Galactosidase</text>
<path d="M245.5 577.2 H289.3" stroke="#7030a0" stroke-width="4" fill="none"/>
<path d="M267.4 571.2 L273.4 577.2 L267.4 583.2 L261.4 577.2 Z" fill="#7030a0"/>
<text x="293.7" y="582.4" font-size="16" text-anchor="start" font-weight="normal" fill="#000" textLength="94" lengthAdjust="spacingAndGlyphs">Xylanase/10</text>
<text x="579" y="581.8" font-size="20" text-anchor="start" font-weight="bold" fill="#ff0000" textLength="24.1" lengthAdjust="spacingAndGlyphs">(C)</text>
</svg>
</body></html>
